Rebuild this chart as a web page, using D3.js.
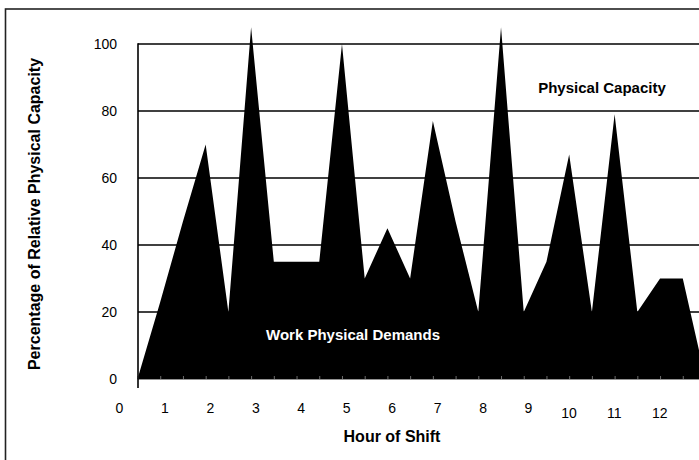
<!DOCTYPE html>
<html>
<head>
<meta charset="utf-8">
<script src="https://cdn.jsdelivr.net/npm/d3@7"></script>
<style>
  html, body { margin: 0; padding: 0; background: #fff; }
  svg { display: block; font-family: "Liberation Sans", Arial, Helvetica, sans-serif; }
  .tick-lbl { font-size: 14px; fill: #000; }
  .title { font-weight: bold; fill: #000; }
</style>
</head>
<body>
<svg id="chart"></svg>
<script>
// Half-hour slots along the shift and the work demand at each one (% of capacity)
const SLOTS  = [0, 1, 2, 3, 4, 5, 6, 7, 8, 9, 10, 11, 12, 13, 14, 15, 16, 17, 18, 19, 20, 21, 22, 23, 24, 25];
const DEMAND = [0, 23, 47, 70, 20, 105, 35, 35, 35, 100, 30, 45, 30, 77, 47, 20, 105, 20, 35, 67, 20, 79, 20, 30, 30, 0];

const Y_GRID  = [20, 40, 60, 80, 100];
const Y_TICKS = [0, 20, 40, 60, 80, 100];
const HOURS   = [0, 1, 2, 3, 4, 5, 6, 7, 8, 9, 10, 11, 12];

const VW = 699, VH = 460;
const svg = d3.select("#chart").attr("width", VW).attr("height", VH);

// plot runs off the right edge of the window, as in the original
const x = d3.scaleLinear().domain([0, 25]).range([137.5, 705.5]);
const y = d3.scaleLinear().domain([0, 100]).range([379, 44]);
// hour labels sit between slots
const hx = d3.scaleLinear().domain([0, 12]).range([119.5, 664.8]);

// outer frame
svg.append("rect")
  .attr("x", 5.5).attr("y", 9).attr("width", 720).attr("height", 480)
  .attr("fill", "none").attr("stroke", "#222").attr("stroke-width", 1.6);

// grid
svg.append("g").selectAll("line")
  .data(Y_GRID)
  .join("line")
  .attr("x1", 138).attr("x2", VW)
  .attr("y1", d => y(d)).attr("y2", d => y(d))
  .attr("stroke", "#000").attr("stroke-width", 1.6);

// demand area
const area = d3.area()
  .x((d, i) => x(SLOTS[i]))
  .y0(y(0))
  .y1(d => y(d));

svg.append("path")
  .datum(DEMAND)
  .attr("fill", "#000")
  .attr("d", area);

// baseline with small slot ticks
const xAxis = svg.append("g").attr("transform", `translate(0,${y(0)})`)
  .call(d3.axisBottom(x).tickValues(SLOTS).tickSize(-3).tickFormat(""));
xAxis.select(".domain").attr("stroke", "#777").attr("stroke-width", 0.8);
xAxis.selectAll(".tick line").attr("stroke", "#888").attr("stroke-width", 0.8);

// y axis line
svg.append("line")
  .attr("x1", 138).attr("x2", 138)
  .attr("y1", y(100) - 0.8).attr("y2", 388)
  .attr("stroke", "#000").attr("stroke-width", 1.6);

// y tick labels
svg.append("g").selectAll("text")
  .data(Y_TICKS)
  .join("text")
  .attr("class", "tick-lbl")
  .attr("x", 117).attr("y", d => y(d))
  .attr("dy", "0.35em")
  .attr("text-anchor", "end")
  .text(d => d);

// hour labels (two-digit ones sit a little lower and left)
svg.append("g").selectAll("text")
  .data(HOURS)
  .join("text")
  .attr("class", "tick-lbl")
  .attr("x", d => hx(d) - (d >= 10 ? 5 : 0))
  .attr("y", d => d >= 10 ? 418 : 413)
  .attr("text-anchor", "middle")
  .text(d => d);

// axis titles
svg.append("text").attr("class", "title")
  .attr("x", 392).attr("y", 442)
  .attr("text-anchor", "middle")
  .style("font-size", "16px")
  .text("Hour of Shift");

svg.append("text").attr("class", "title")
  .attr("transform", "rotate(-90)")
  .attr("x", -214).attr("y", 40)
  .attr("text-anchor", "middle")
  .style("font-size", "16px")
  .text("Percentage of Relative Physical Capacity");

// in-chart labels
svg.append("text").attr("class", "title")
  .attr("x", 602).attr("y", 93)
  .attr("text-anchor", "middle")
  .style("font-size", "15px")
  .text("Physical Capacity");

svg.append("text")
  .attr("x", 353).attr("y", 340)
  .attr("text-anchor", "middle")
  .style("font-size", "15px").style("font-weight", "bold")
  .attr("fill", "#fff")
  .text("Work Physical Demands");
</script>
</body>
</html>
